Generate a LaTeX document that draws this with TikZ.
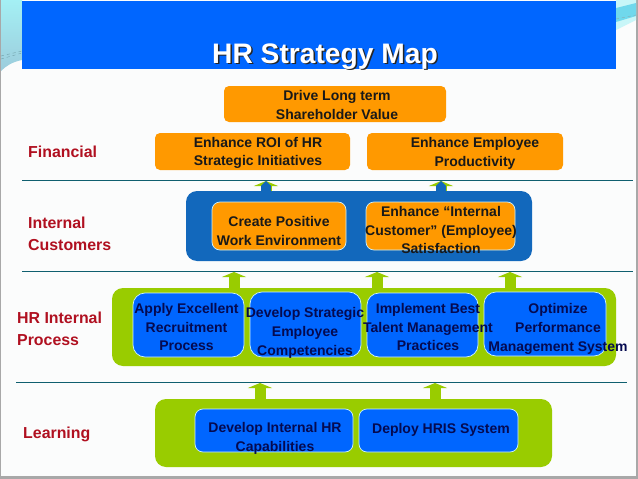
\documentclass[tikz,border=0pt]{standalone}
\usepackage{fontspec}
\setmainfont{Liberation Sans}
\usepackage{tikz}
\usetikzlibrary{arrows.meta}
\definecolor{barblue}{HTML}{0066FF}
\definecolor{deepblue}{HTML}{1268BC}
\definecolor{boxorange}{HTML}{FF9900}
\definecolor{leafgreen}{HTML}{99CC00}
\definecolor{labelred}{HTML}{B01020}
\definecolor{ruleteal}{HTML}{0F5F6F}
\definecolor{rimblue}{HTML}{CCF2FF}
\definecolor{navytext}{HTML}{050A50}
\definecolor{pagewhite}{HTML}{FBFCFC}
\definecolor{pagegrey}{HTML}{A8A8A8}
\definecolor{skytop}{HTML}{A4F0F4}
\definecolor{skylow}{HTML}{9CCCDC}
\definecolor{skyband}{HTML}{70D8EC}
\tikzstyle{goal} = [rectangle, fill=boxorange, rounded corners=5pt, inner sep=0pt, outer sep=0pt]
\tikzstyle{inner} = [goal, draw=rimblue, line width=0.7pt, rounded corners=8pt]
\tikzstyle{process} = [inner, fill=barblue, rounded corners=12pt]
\tikzstyle{band} = [rectangle, rounded corners=11pt, inner sep=0pt, outer sep=0pt]
\tikzstyle{txt} = [align=center, font=\bfseries\fontsize{14}{18.8}\selectfont, inner sep=0pt, text=black!90]
\tikzstyle{navy} = [txt, text=navytext]
\tikzstyle{side} = [align=left, anchor=west, text=labelred, inner sep=0pt, font=\bfseries\fontsize{15.9}{22}\selectfont]
\tikzstyle{rule} = [draw=ruleteal, line width=0.8pt]
\tikzstyle{line} = [draw=leafgreen, line width=11pt, -{Triangle[width=24pt, length=5pt]}]
\tikzstyle{topline} = [draw=deepblue, line width=10pt, -{Triangle[width=10pt, length=5pt]}]
\tikzstyle{headline} = [font=\bfseries\fontsize{28.2}{32}\selectfont, inner sep=0pt]
\begin{document}
\begin{tikzpicture}[x=1pt, y=-1pt]
                \useasboundingbox (0,0) rectangle (638,479);
                % page and corners
                \fill [pagegrey] (0,0) rectangle (638,479);
                \fill [pagewhite] (1,0) rectangle (636,476);
                \shade [top color=skytop, bottom color=skylow] (1,0) -- (22,0) -- (22,60) .. controls (12,62) and (6,66) .. (1,71) -- cycle;
                \draw [ruleteal!60, line width=0.4pt, dashed] (1,59) -- (22,53);
                \draw [ruleteal!60, line width=0.4pt, dashed] (1,56) -- (22,51);
                \fill [skytop!60!white] (616,0) -- (636,0) -- (636,20) -- (616,30) -- cycle;
                \fill [skyband] (616,8) -- (636,3) -- (636,16) -- (616,22) -- cycle;
                \draw [ruleteal!50, line width=0.4pt, dashed] (616,19) -- (636,15);
                % title
                \node [rectangle, fill=barblue, minimum width=594pt, minimum height=68pt, inner sep=0pt, outer sep=0pt] at (319,35) (titlebar) {};
                \node [headline, text=black!85] at (326.5,58) (titleshade) {HR Strategy Map};
                \node [headline, text=white] at (325,56.5) (title) {HR Strategy Map};
                % bands
                \node [band, fill=deepblue, minimum width=346pt, minimum height=70pt] at (359,226) (customerband) {};
                \node [band, fill=leafgreen, minimum width=504pt, minimum height=78pt] at (364,327) (processband) {};
                \node [band, fill=leafgreen, minimum width=397pt, minimum height=68pt] at (353.5,433) (learningband) {};
                % rules
                \coordinate (ruleA) at (22,180.5);
                \coordinate (ruleAend) at (633,180.5);
                \coordinate (ruleB) at (22,271.5);
                \coordinate (ruleBend) at (633,271.5);
                \coordinate (ruleC) at (16,382.5);
                \coordinate (ruleCend) at (627,382.5);
                \path [rule] (ruleA) -- (ruleAend);
                \path [rule] (ruleB) -- (ruleBend);
                \path [rule] (ruleC) -- (ruleCend);
                % financial
                \node [goal, minimum width=222pt, minimum height=36pt] at (335,104) (drive) {};
                \node [goal, minimum width=195pt, minimum height=37pt] at (252.5,151.5) (roi) {};
                \node [goal, minimum width=196pt, minimum height=37pt] at (465,151.5) (productivity) {};
                \node [inner, minimum width=134pt, minimum height=48pt] at (279,226) (create) {};
                \node [inner, minimum width=149pt, minimum height=48pt] at (440.5,226) (customer) {};
                \node [process, minimum width=111pt, minimum height=64pt] at (188.5,325) (apply) {};
                \node [process, minimum width=111pt, minimum height=65pt] at (305.5,324.5) (develop) {};
                \node [process, minimum width=111pt, minimum height=64pt] at (422.5,325) (implement) {};
                \node [process, minimum width=122pt, minimum height=64pt] at (545,324) (optimize) {};
                \node [process, minimum width=158pt, minimum height=43pt, rounded corners=8pt] at (274,430.5) (capability) {};
                \node [process, minimum width=159pt, minimum height=43pt, rounded corners=8pt] at (438.5,430.5) (hris) {};
                % arrows
                \coordinate (tipA) at (266,181);
                \coordinate (tipB) at (441,181);
                \coordinate (tipC) at (234,272);
                \coordinate (tipD) at (377,272);
                \coordinate (tipE) at (510,272);
                \coordinate (tipF) at (260,383);
                \coordinate (tipG) at (435,383);
                \path [line] (customerband.north -| tipA) -- (tipA);
                \path [line] (customerband.north -| tipB) -- (tipB);
                \path [topline] (customerband.north -| tipA) -- (tipA);
                \path [topline] (customerband.north -| tipB) -- (tipB);
                \path [line] (processband.north -| tipC) -- (tipC);
                \path [line] (processband.north -| tipD) -- (tipD);
                \path [line] (processband.north -| tipE) -- (tipE);
                \path [line] (learningband.north -| tipF) -- (tipF);
                \path [line] (learningband.north -| tipG) -- (tipG);
                % texts
                \node [side] at (28,151.5) (financial) {Financial};
                \node [side] at (28,234) (customers) {Internal\\Customers};
                \node [side] at (17,329) (hrprocess) {HR Internal\\Process};
                \node [side] at (23,434.5) (learning) {Learning};
                \node [txt] at (337,105) (drivetxt) {Drive Long term\\Shareholder Value};
                \node [txt, align=left] at (258,153) (roitxt) {Enhance ROI of HR\\Strategic Initiatives};
                \node [txt] at (475,153) (productivitytxt) {Enhance Employee\\Productivity};
                \node [txt] at (279,231) (createtxt) {Create Positive\\Work Environment};
                \node [txt] at (441,230) (customertxt) {Enhance “Internal\\Customer” (Employee)\\Satisfaction};
                \node [navy] at (186.5,327) (applytxt) {Apply Excellent\\Recruitment\\Process};
                \node [navy] at (305,333) (developtxt) {Develop Strategic\\Employee\\Competencies};
                \node [navy] at (428,327) (implementtxt) {Implement Best\\Talent Management\\Practices};
                \node [navy] at (558,329) (optimizetxt) {Optimize\\Performance\\Management System};
                \node [navy] at (275,438.5) (capabilitytxt) {Develop Internal HR\\Capabilities};
                \node [navy] at (441,429.5) (hristxt) {Deploy HRIS System};
            \end{tikzpicture}
\end{document}
